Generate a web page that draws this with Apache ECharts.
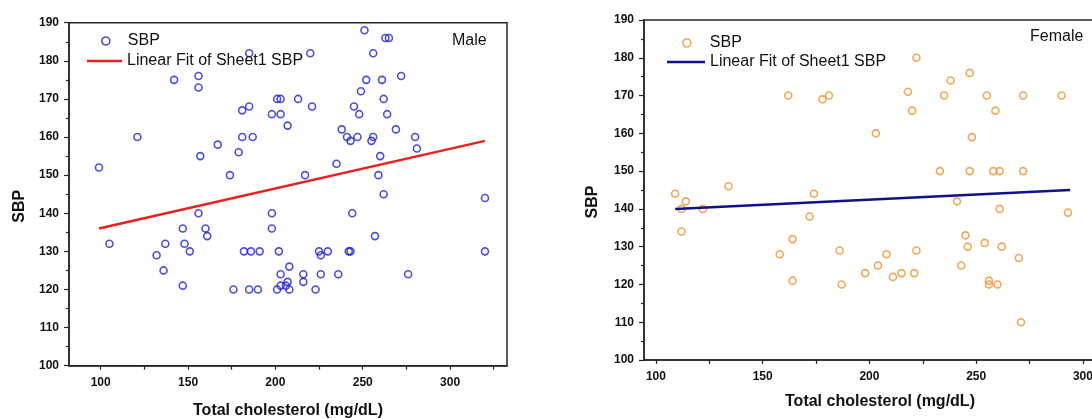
<!DOCTYPE html>
<html>
<head>
<meta charset="utf-8">
<script src="https://cdn.jsdelivr.net/npm/echarts@6/dist/echarts.min.js"></script>
<style>
  html, body { margin: 0; padding: 0; background: #ffffff; }
  #wrap { position: relative; width: 1092px; height: 419px; overflow: hidden; background: #fff; }
  #male { position: absolute; left: 0; top: 0; width: 546px; height: 419px; }
  #female { position: absolute; left: 546px; top: 0; width: 660px; height: 419px; }
</style>
</head>
<body>
<div id="wrap"><div id="male"></div><div id="female"></div></div>
<script>
// ---- data ----
const xLabelValues = [100, 150, 200, 250, 300];
const xTickValuesMale = [100, 125, 150, 175, 200, 225, 250, 275, 300, 325];
const xTickValuesFemale = [100, 125, 150, 175, 200, 225, 250, 275, 300];
const yMin = 100, yMax = 190, yStep = 10;

const maleChol = [99,105,121,132,136,137,142,147,147,148,
  151,156,156,157,156,160,161,167,174,176,
  179,181,181,182,185,185,185,186,187,190,
  191,198,198,198,201,203,203,202,203,201,
  203,206,207,208,208,207,213,216,216,217,
  220,221,223,225,226,226,230,235,236,238,
  241,243,242,243,244,245,247,248,249,251,
  252,255,256,256,257,259,260,261,262,262,
  263,265,264,269,272,276,280,281,320,320];
const maleSBP = [152,132,160,129,125,132,175,136,121,132,
  130,176,173,155,140,136,134,158,150,120,
  156,167,160,130,182,168,120,130,160,120,
  130,166,140,136,170,170,166,130,124,120,
  121,121,122,126,120,163,170,124,122,150,
  182,168,120,130,129,124,130,153,124,162,
  160,159,130,130,140,168,160,166,172,188,
  175,159,182,160,134,150,155,175,170,145,
  186,186,166,162,176,124,160,157,144,130];
const maleFitX = [99, 320];
const maleFitY = [136, 159];

const femaleChol = [109,112,114,112,122,134,158,162,164,164,
  172,174,178,181,186,187,198,203,204,208,
  211,215,218,220,221,222,222,233,235,238,
  241,243,245,246,247,247,248,254,255,256,
  256,258,259,260,261,261,262,270,271,272,
  272,290,293];
const femaleSBP = [144,140,142,134,140,146,128,170,132,121,
  138,144,169,170,129,120,123,160,125,128,
  122,123,171,166,123,180,129,150,170,174,
  142,125,133,130,176,150,159,131,170,121,
  120,150,166,120,150,140,130,127,110,170,
  150,170,139];
const femaleFitX = [109, 294];
const femaleFitY = [140, 145];

const scatterName = 'SBP';
const fitName = 'Linear Fit of Sheet1 SBP';
const xTitle = 'Total cholesterol (mg/dL)';
const yTitle = 'SBP';

// ---- build ----
const FONT = "'Liberation Sans', Arial, Helvetica, sans-serif";
const AXIS_COLOR = '#262626';
const TEXT_COLOR = '#111111';

function zip(a, b) { return a.map((v, i) => [v, b[i]]); }

function buildOption(cfg) {
  return {
    animation: false,
    backgroundColor: '#ffffff',
    textStyle: { fontFamily: FONT },
    title: {
      text: cfg.label, left: cfg.labelLeft, top: cfg.labelTop, padding: 0,
      textStyle: { fontFamily: FONT, fontSize: 16, fontWeight: 'normal', color: TEXT_COLOR, lineHeight: 16 }
    },
    grid: {
      left: cfg.gridLeft, top: cfg.gridTop, width: cfg.gridWidth, height: cfg.gridHeight,
      outerBoundsMode: 'none', containLabel: false,
      show: true, borderColor: AXIS_COLOR, borderWidth: 1.5, backgroundColor: 'transparent'
    },
    legend: [
      {
        left: cfg.dotLegendLeft, top: cfg.legendTop1, padding: 0, orient: 'vertical',
        itemWidth: 8, itemHeight: 8, selectedMode: false,
        textStyle: { fontFamily: FONT, fontSize: 16, color: TEXT_COLOR, lineHeight: 16, padding: [0, 0, 0, cfg.dotTextPad] },
        data: [{ name: scatterName, icon: 'circle',
          itemStyle: { color: 'rgba(0,0,0,0)', borderColor: cfg.dotColor, borderWidth: 1.6 } }]
      },
      {
        left: cfg.legendLeft, top: cfg.legendTop2, padding: 0, orient: 'vertical',
        itemWidth: cfg.legendItemWidth, itemHeight: 2.5, selectedMode: false,
        textStyle: { fontFamily: FONT, fontSize: 16, color: TEXT_COLOR, lineHeight: 16 },
        data: [{ name: fitName, icon: 'rect', itemStyle: { color: cfg.lineColor, borderWidth: 0 } }]
      }
    ],
    xAxis: {
      type: 'value', min: cfg.xMin, max: cfg.xMax,
      axisLine: { show: true, onZero: false, lineStyle: { color: AXIS_COLOR, width: 1.5 } },
      axisTick: { show: true, customValues: cfg.xTicks, length: 4, lineStyle: { color: AXIS_COLOR, width: 1.2 } },
      axisLabel: { customValues: xLabelValues, fontFamily: FONT, fontSize: 12, fontWeight: 'bold', color: TEXT_COLOR, margin: cfg.xLabelMargin },
      splitLine: { show: false },
      name: xTitle, nameLocation: 'middle', nameGap: cfg.xNameGap,
      nameTextStyle: { fontFamily: FONT, fontSize: 16, fontWeight: 'bold', color: TEXT_COLOR, verticalAlign: 'top' }
    },
    yAxis: {
      type: 'value', min: yMin, max: yMax, interval: yStep,
      axisLine: { show: true, onZero: false, lineStyle: { color: AXIS_COLOR, width: 1.5 } },
      axisTick: { show: true, length: 5, lineStyle: { color: AXIS_COLOR, width: 1.2 } },
      minorTick: { show: true, splitNumber: 2, length: 3, lineStyle: { color: AXIS_COLOR, width: 1.2 } },
      axisLabel: { fontFamily: FONT, fontSize: 12, fontWeight: 'bold', color: TEXT_COLOR, margin: 10 },
      splitLine: { show: false },
      name: yTitle, nameLocation: 'middle', nameGap: cfg.yNameGap,
      nameTextStyle: { fontFamily: FONT, fontSize: 16, fontWeight: 'bold', color: TEXT_COLOR, padding: [0, 24, 0, 0] }
    },
    series: [
      {
        name: scatterName, type: 'scatter', symbol: 'circle', symbolSize: 7,
        itemStyle: { color: 'rgba(0,0,0,0)', borderColor: cfg.dotColor, borderWidth: 1.6 },
        data: zip(cfg.x, cfg.y), z: 2
      },
      {
        name: fitName, type: 'line', symbol: 'none', showSymbol: false,
        lineStyle: { color: cfg.lineColor, width: 2.5 }, itemStyle: { color: cfg.lineColor },
        data: zip(cfg.fitX, cfg.fitY), z: 3
      }
    ]
  };
}

const male = echarts.init(document.getElementById('male'), null, { renderer: 'canvas' });
male.setOption(buildOption({
  label: 'Male', labelLeft: 452, labelTop: 33,
  gridLeft: 69, gridTop: 22.7, gridWidth: 438, gridHeight: 343,
  xMin: 81.85, xMax: 332.6, xTicks: xTickValuesMale,
  dotLegendLeft: 101, dotTextPad: 13,
  legendLeft: 87, legendTop1: 33, legendTop2: 53, legendItemWidth: 35,
  dotColor: '#2222d2', lineColor: '#ec1f1f',
  xLabelMargin: 11, xNameGap: 37, yNameGap: 38,
  x: maleChol, y: maleSBP, fitX: maleFitX, fitY: maleFitY
}));

const female = echarts.init(document.getElementById('female'), null, { renderer: 'canvas' });
female.setOption(buildOption({
  label: 'Female', labelLeft: 484, labelTop: 29,
  gridLeft: 98, gridTop: 20, gridWidth: 472, gridHeight: 340,
  xMin: 94.4, xMax: 315.5, xTicks: xTickValuesFemale,
  dotLegendLeft: 136, dotTextPad: 14,
  legendLeft: 121, legendTop1: 35, legendTop2: 54, legendItemWidth: 38,
  dotColor: '#f0902c', lineColor: '#10108a',
  xLabelMargin: 11, xNameGap: 34, yNameGap: 43,
  x: femaleChol, y: femaleSBP, fitX: femaleFitX, fitY: femaleFitY
}));
</script>
</body>
</html>
